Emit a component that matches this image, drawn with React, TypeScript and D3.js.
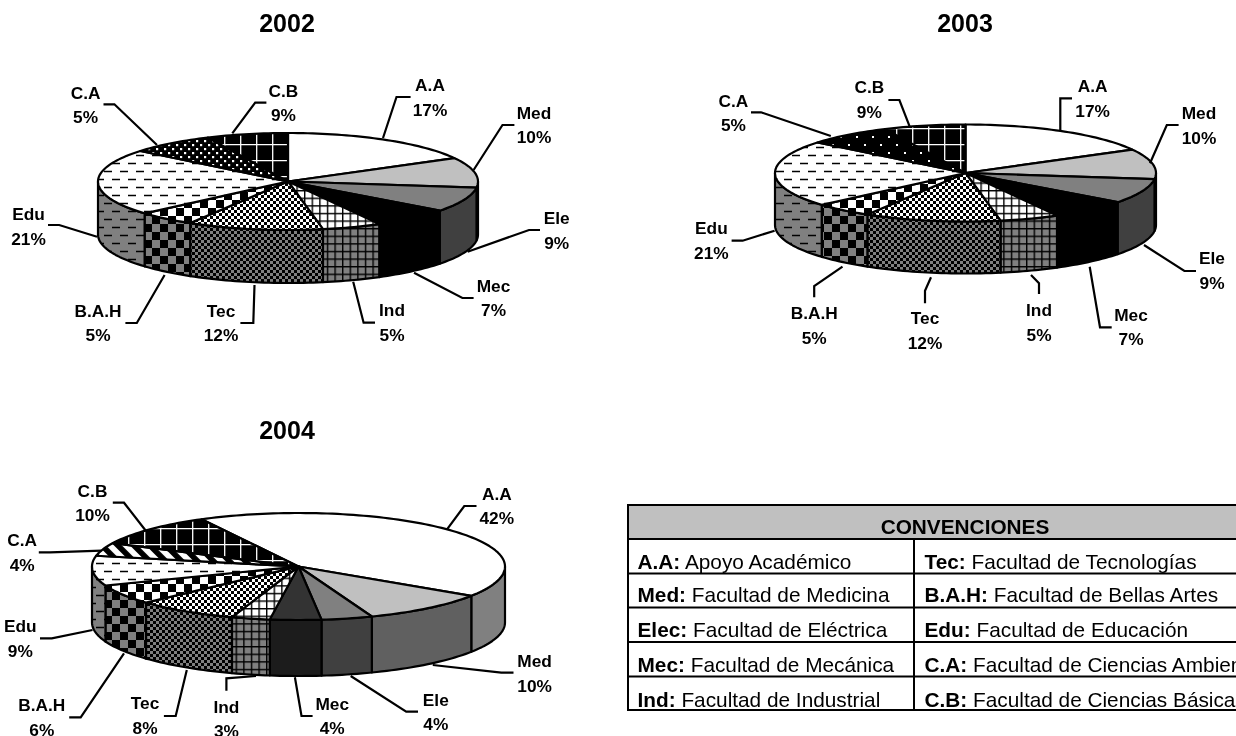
import React from 'react';
import * as d3 from 'd3';

const FONT = '"Liberation Sans", Arial, sans-serif';

const categories = ['A.A', 'Med', 'Ele', 'Mec', 'Ind', 'Tec', 'B.A.H', 'Edu', 'C.A', 'C.B'];
const values2002 = [17, 10, 9, 7, 5, 12, 5, 21, 5, 9];
const values2003 = [17, 10, 9, 7, 5, 12, 5, 21, 5, 9];
const values2004 = [42, 10, 4, 4, 3, 8, 6, 9, 4, 10];

const legendRows = [
  ['A.A:', 'Apoyo Académico', 'Tec:', 'Facultad de Tecnologías'],
  ['Med:', 'Facultad de Medicina', 'B.A.H:', 'Facultad de Bellas Artes'],
  ['Elec:', 'Facultad de Eléctrica', 'Edu:', 'Facultad de Educación'],
  ['Mec:', 'Facultad de Mecánica', 'C.A:', 'Facultad de Ciencias Ambientales'],
  ['Ind:', 'Facultad de Industrial', 'C.B:', 'Facultad de Ciencias Básicas'],
];
const legendTitle = 'CONVENCIONES';

// Fill per category
const top2002 = ['#ffffff', '#c0c0c0', '#808080', '#000000', 'url(#gridW)', 'url(#chkW)', 'url(#bigW)', 'url(#dashW)', 'url(#dotDense)', 'url(#cb)'];
const side2002 = ['#808080', '#606060', '#404040', '#000000', 'url(#gridG)', 'url(#chkG)', 'url(#bigG)', 'url(#dashG)', '#000', '#000'];
const top2003 = ['#ffffff', '#c0c0c0', '#808080', '#000000', 'url(#gridW)', 'url(#chkW)', 'url(#bigW)', 'url(#dashW)', 'url(#dotSparse)', 'url(#cb)'];
const top2004 = ['#ffffff', '#c0c0c0', '#808080', '#333333', 'url(#gridW)', 'url(#chkW)', 'url(#bigW)', 'url(#dashW)', 'url(#stripe)', 'url(#cb)'];
const side2004 = ['#808080', '#606060', '#404040', '#1c1c1c', 'url(#gridG)', 'url(#chkG)', 'url(#bigG)', 'url(#dashG)', '#000', '#000'];

// Leader lines: rim, elbow, end of stub; then label centre x, first and second line centre y
type Lead = [number, number, number, number, number, number, number, number, number];
const leads2002: Lead[] = [
  [383, 138, 396.5, 97, 410.6, 97, 430, 85, 110],
  [473.6, 170, 502.5, 125, 514.4, 125, 534, 112.7, 136.7],
  [467.6, 251.7, 529, 230, 540, 230, 556.7, 218, 242.7],
  [414, 272.7, 462.4, 298, 473.6, 298, 493.5, 286, 310],
  [353.2, 281.7, 363.6, 322.7, 375, 322.7, 392, 310, 335],
  [254.5, 285, 253.3, 323, 240.4, 323, 221, 310.7, 335],
  [164.6, 275, 136.8, 323, 125.4, 323, 98, 310.7, 335],
  [97, 236.7, 59.2, 225, 48, 225, 28.5, 214, 239],
  [157, 145, 114.4, 104.3, 103.5, 104.3, 85.6, 92.7, 117],
  [232.3, 133.3, 255.2, 102.7, 266.4, 102.7, 283.4, 90.7, 115],
];
const leads2003: Lead[] = [
  [1060.3, 131, 1060.3, 98.3, 1072, 98.3, 1092.6, 86, 110.7],
  [1150, 163.3, 1166.8, 125, 1178.6, 125, 1199, 112.7, 137.7],
  [1144, 245, 1184.4, 271, 1196, 271, 1212, 258, 282.7],
  [1089.7, 266.7, 1100, 327.3, 1111.7, 327.3, 1131, 315, 339],
  [1031, 275, 1039, 283.3, 1039, 294, 1039, 310, 335],
  [931, 277.3, 925, 290.7, 925, 303.3, 925, 318.3, 343.3],
  [842.5, 266.7, 814.2, 286, 814.2, 297.3, 814.2, 312.7, 337.7],
  [774.6, 230.7, 742.6, 240.7, 731.6, 240.7, 711.4, 228.3, 253.3],
  [830.8, 136, 761, 112.3, 751, 112.3, 733.4, 100.7, 125],
  [909.7, 126.7, 899.4, 100, 888.4, 100, 869.3, 87.3, 112.3],
];
const leads2004: Lead[] = [
  [447, 529.3, 464.3, 506, 476.5, 506, 496.8, 494, 518.3],
  [432.8, 665, 501.3, 672.7, 513.5, 672.7, 534.6, 661, 686],
  [350.7, 676, 406.2, 711.7, 418, 711.7, 435.8, 700, 724],
  [294.9, 677.3, 301.5, 716, 312.6, 716, 332.2, 704.3, 728.3],
  [256, 676, 226.4, 678.3, 226.4, 690.7, 226.4, 706.7, 731],
  [186.8, 670, 175.7, 716, 163.9, 716, 145, 703.3, 728.3],
  [124, 653.3, 80.7, 717.3, 69.2, 717.3, 41.8, 705, 730],
  [92.5, 630, 51.8, 638.3, 40, 638.3, 20.3, 626, 650.7],
  [101.7, 550.7, 50, 552.3, 38.8, 552.3, 22.2, 540, 565],
  [146, 531, 124, 502.7, 112.8, 502.7, 92.5, 490.7, 515],
];

const rad = Math.PI / 180;
// Excel's 3-D view slightly compresses the front slices of the two upper pies
const tilted = d3.scaleLinear()
  .domain([0, 97, 129.6, 154.8, 172.8, 216, 234, 309.6, 327.6, 360].map(d => d * rad))
  .range([0, 97, 127, 151.3, 169.4, 211, 229, 309, 335, 360].map(d => d * rad));
const identity = (a: number) => a;

interface PieProps {
  title: string; titleX: number; titleY: number;
  values: number[]; top: string[]; side: string[]; leads: Lead[];
  cx: number; cy: number; rx: number; ry: number; depth: number;
  rotation: number; warp: (a: number) => number;
}

const line = d3.line();

function Pie3D(p: PieProps) {
  const { cx, cy, rx, ry, depth } = p;
  const arcs = d3.pie<number>().sort(null)
    .startAngle(p.rotation * rad)
    .endAngle(p.rotation * rad + 2 * Math.PI)(p.values);
  const pt = (a: number, dy = 0): [number, number] =>
    [cx + rx * Math.sin(a), cy - ry * Math.cos(a) + dy];
  const sample = (a0: number, a1: number) => {
    const n = Math.max(2, Math.ceil(Math.abs(a1 - a0) / (1.5 * rad)));
    return d3.range(n + 1).map(i => a0 + (a1 - a0) * i / n);
  };
  const span = arcs.map(a => [p.warp(a.startAngle), p.warp(a.endAngle)]);
  const walls: React.ReactNode[] = [];
  const tops: React.ReactNode[] = [];
  span.forEach(([a0, a1], i) => {
    // front half of the ellipse only
    const s = Math.max(a0, 90 * rad);
    const e = Math.min(a1, 270 * rad);
    if (e > s) {
      const upper = sample(s, e).map(a => pt(a));
      const lower = sample(e, s).map(a => pt(a, depth));
      walls.push(<path key={i} d={line([...upper, ...lower])! + 'Z'} fill={p.side[i]} stroke="#000" strokeWidth={2.2} strokeLinejoin="round" />);
    }
    const rim = sample(a0, a1).map(a => pt(a));
    tops.push(<path key={i} d={line([[cx, cy], ...rim])! + 'Z'} fill={p.top[i]} stroke="#000" strokeWidth={2.2} strokeLinejoin="round" />);
  });
  return (
    <g>
      <text x={p.titleX} y={p.titleY} textAnchor="middle" fontFamily={FONT} fontWeight="bold" fontSize={25}>{p.title}</text>
      {walls}
      {tops}
      {p.leads.map((l, i) => (
        <g key={i}>
          <polyline points={`${l[0]},${l[1]} ${l[2]},${l[3]} ${l[4]},${l[5]}`} fill="none" stroke="#000" strokeWidth={2.2} />
          <text x={l[6]} y={l[7] + 6} textAnchor="middle" fontFamily={FONT} fontWeight="bold" fontSize={17.3}>{categories[i]}</text>
          <text x={l[6]} y={l[8] + 6} textAnchor="middle" fontFamily={FONT} fontWeight="bold" fontSize={17.3}>{p.values[i]}%</text>
        </g>
      ))}
    </g>
  );
}

function Defs() {
  const grid = (id: string, bg: string) => (
    <pattern id={id} patternUnits="userSpaceOnUse" width={7.6} height={7.6}>
      <rect width={7.6} height={7.6} fill={bg} />
      <path d="M0.7,0V7.6M0,0.7H7.6" stroke="#000" strokeWidth={1.4} />
    </pattern>
  );
  const chk = (id: string, bg: string, s: number) => (
    <pattern id={id} patternUnits="userSpaceOnUse" width={2 * s} height={2 * s}>
      <rect width={2 * s} height={2 * s} fill={bg} />
      <rect width={s} height={s} fill="#000" />
      <rect x={s} y={s} width={s} height={s} fill="#000" />
    </pattern>
  );
  const dash = (id: string, bg: string) => (
    <pattern id={id} patternUnits="userSpaceOnUse" width={16} height={16}>
      <rect width={16} height={16} fill={bg} />
      <path d="M0,3.5H8M8,11.5H16" stroke="#000" strokeWidth={1.4} />
    </pattern>
  );
  const dots = (id: string, s: number, d: number) => (
    <pattern id={id} patternUnits="userSpaceOnUse" width={2 * s} height={2 * s}>
      <rect width={2 * s} height={2 * s} fill="#000" />
      <rect x={0} y={0} width={d} height={d} fill="#fff" />
      <rect x={s} y={s} width={d} height={d} fill="#fff" />
    </pattern>
  );
  return (
    <defs>
      {grid('gridW', '#fff')}
      {grid('gridG', '#808080')}
      {chk('chkW', '#fff', 3)}
      {chk('chkG', '#808080', 3)}
      {chk('bigW', '#fff', 8)}
      {chk('bigG', '#808080', 8)}
      {dash('dashW', '#fff')}
      {dash('dashG', '#808080')}
      {dots('dotDense', 4, 2.2)}
      {dots('dotSparse', 8, 2)}
      <pattern id="cb" patternUnits="userSpaceOnUse" width={16} height={16}>
        <rect width={16} height={16} fill="#000" />
        <path d="M0.7,0V16M0,0.7H16" stroke="#fff" strokeWidth={1.3} />
      </pattern>
      <pattern id="stripe" patternUnits="userSpaceOnUse" width={11.3} height={11.3} patternTransform="rotate(-45)">
        <rect width={11.3} height={11.3} fill="#fff" />
        <rect width={5.6} height={11.3} fill="#000" />
      </pattern>
    </defs>
  );
}

function Legend() {
  const left = 628, right = 1240, divider = 914, top = 505, head = 539;
  const rowBottoms = [573.5, 607.5, 642, 676.5, 710];
  const baselines = [568.5, 602.3, 637, 671.7, 706.7];
  return (
    <g fontFamily={FONT} fontSize={20.8}>
      <rect x={left} y={top} width={right - left} height={head - top} fill="#c0c0c0" stroke="#000" strokeWidth={2} />
      <rect x={left} y={head} width={right - left} height={710 - head} fill="#fff" stroke="#000" strokeWidth={2} />
      <line x1={divider} x2={divider} y1={head} y2={710} stroke="#000" strokeWidth={2} />
      {rowBottoms.slice(0, -1).map(y => <line key={y} x1={left} x2={right} y1={y} y2={y} stroke="#000" strokeWidth={2} />)}
      <text x={965} y={533.7} textAnchor="middle" fontWeight="bold">{legendTitle}</text>
      {legendRows.map((r, i) => (
        <g key={i}>
          <text x={637.5} y={baselines[i]}><tspan fontWeight="bold">{r[0]}</tspan> {r[1]}</text>
          <text x={924.5} y={baselines[i]}><tspan fontWeight="bold">{r[2]}</tspan> {r[3]}</text>
        </g>
      ))}
    </g>
  );
}

export default function App() {
  return (
    <svg width={1236} height={736} viewBox="0 0 1236 736" style={{ position: 'absolute', left: 0, top: 0, display: 'block', background: '#fff', filter: 'blur(0.35px)' }}>
      <Defs />
      <Pie3D title="2002" titleX={287} titleY={32} values={values2002} top={top2002} side={side2002} leads={leads2002}
        cx={288} cy={181.5} rx={190} ry={48.5} depth={53} rotation={0} warp={tilted} />
      <Pie3D title="2003" titleX={965} titleY={32} values={values2003} top={top2003} side={side2002} leads={leads2003}
        cx={965.5} cy={173} rx={190.5} ry={48.5} depth={52} rotation={0} warp={tilted} />
      <Pie3D title="2004" titleX={287} titleY={439} values={values2004} top={top2004} side={side2004} leads={leads2004}
        cx={298.5} cy={566.5} rx={206.5} ry={53.5} depth={56} rotation={-28} warp={identity} />
      <Legend />
    </svg>
  );
}
